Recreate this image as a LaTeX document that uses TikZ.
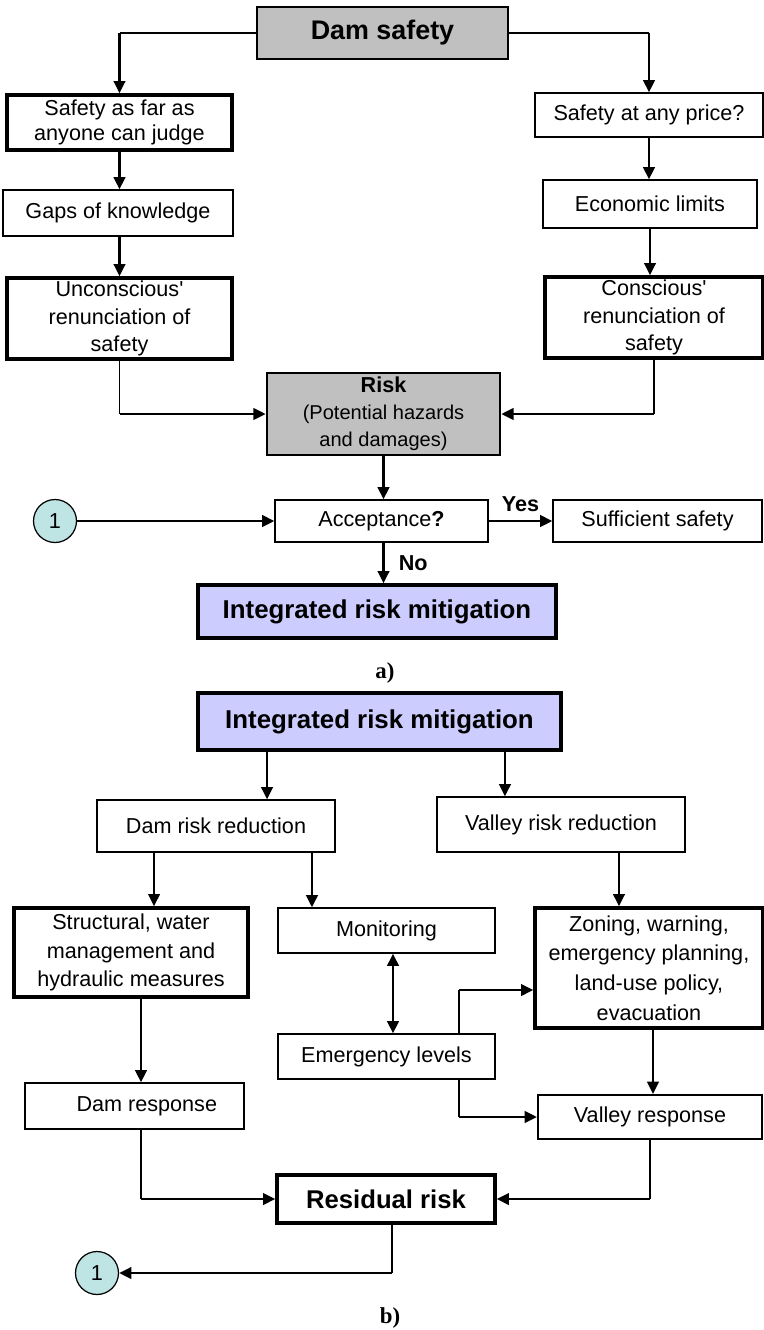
\documentclass[tikz,border=0pt]{standalone}
\usepackage{fontspec}
\setmainfont{Liberation Sans}
\newfontfamily\plainfont{Liberation Sans}
\newfontfamily\capfont{Liberation Serif}
\newcommand{\apos}{{\plainfont'}}
\usetikzlibrary{arrows.meta}
\definecolor{riskgray}{RGB}{192,192,192}
\definecolor{mitiblue}{RGB}{204,204,255}
\definecolor{linkcyan}{RGB}{190,228,228}
\tikzset{
	box/.style={draw, line width=0.7pt, fill=white, inner sep=1pt, align=center, font=\fontsize{12.3}{15.5}\selectfont},
	boldbox/.style={box, line width=1.9pt},
	graybox/.style={box, line width=1.5pt, fill=riskgray},
	bluebox/.style={boldbox, fill=mitiblue, font=\bfseries\fontsize{14.7}{17}\selectfont},
	conn/.style={circle, draw, line width=0.7pt, fill=linkcyan, minimum size=0.86cm, inner sep=0pt, font=\fontsize{12.3}{15}\selectfont},
	arr/.style={->, line width=1.5pt},
	link/.style={line width=0.7pt},
	caption/.style={font=\capfont\bfseries\fontsize{13}{15}\selectfont},
}
\begin{document}
\begin{tikzpicture}[x=0.02cm, y=-0.02cm, >={Triangle[length=7pt,width=6.5pt]}, line join=miter]
	\useasboundingbox (0,0) rectangle (764,1330);
	% a) acceptance of risk
	\node[graybox, minimum width=5.02cm, minimum height=1.04cm, font=\bfseries\fontsize{15.3}{18}\selectfont] (dam) at (382.5,33) {Dam safety};
	\node[boldbox, minimum width=4.5cm, minimum height=1.1cm, font=\fontsize{12.3}{14.2}\selectfont] (judge) at (119.5,122.5) {Safety as far as\\anyone can judge};
	\node[box, minimum width=4.6cm, minimum height=0.92cm] (gaps) at (118,213) {Gaps of knowledge};
	\node[boldbox, minimum width=4.5cm, minimum height=1.62cm] (uncons) at (119.5,318.5) {Unconscious\apos\\renunciation of\\safety};
	\node[box, minimum width=4.56cm, minimum height=0.88cm] (price) at (649,115) {Safety at any price?};
	\node[box, minimum width=4.28cm, minimum height=0.96cm] (econ) at (650,204) {Economic limits};
	\node[boldbox, minimum width=4.36cm, minimum height=1.62cm] (cons) at (654,317.5) {Conscious\apos\\renunciation of\\safety};
	\node[graybox, minimum width=4.66cm, minimum height=1.64cm, font=\fontsize{11.4}{15.5}\selectfont] (risk) at (383.5,414) {\textbf{\fontsize{12.3}{15.5}\selectfont Risk}\\(Potential hazards\\and damages)};
	\node[box, minimum width=4.26cm, minimum height=0.84cm] (accept) at (381.5,521) {Acceptance\textbf{?}};
	\node[box, minimum width=4.18cm, minimum height=0.84cm] (suff) at (657.5,521) {Sufficient safety};
	\node[conn] (linka) at (55,521) {1};
	\node[bluebox, minimum width=7.16cm, minimum height=1.06cm] (mitia) at (377,611.5) {Integrated risk mitigation};
	\node[caption] (capa) at (385,673) {a)};

	\draw[link] (dam.west) -- (dam.west -| judge.north);
	\draw[arr] (dam.west -| judge.north) -- (judge.north);
	\draw[link] (dam.east) -- (dam.east -| price.north);
	\draw[arr] (dam.east -| price.north) -- (price.north);
	\draw[arr] (judge.south) -- (judge.south |- gaps.north);
	\draw[arr] (judge.south |- gaps.south) -- (judge.south |- uncons.north);
	\draw[arr] (price.south) -- (price.south |- econ.north);
	\draw[arr] (econ.south) -- (econ.south |- cons.north);
	\draw[link] (uncons.south) -- (uncons.south |- risk.west);
	\draw[arr] (uncons.south |- risk.west) -- (risk.west);
	\draw[link] (cons.south) -- (cons.south |- risk.east);
	\draw[arr] (cons.south |- risk.east) -- (risk.east);
	\draw[arr] (risk.south) -- (risk.south |- accept.north);
	\draw[arr] (linka.east) -- (accept.west);
	\draw[arr] (accept.east) -- node[midway, above=3.5pt, inner sep=1pt, font=\bfseries\fontsize{12.3}{15}\selectfont] {Yes} (suff.west);
	\draw[arr] (risk.south |- accept.south) -- node[midway, right=7pt, inner sep=1pt, font=\bfseries\fontsize{12.3}{15}\selectfont] {No} (risk.south |- mitia.north);

	% b) integrated risk mitigation
	\node[bluebox, minimum width=7.26cm, minimum height=1.14cm] (mitib) at (379.5,721.5) {Integrated risk mitigation};
	\node[box, minimum width=4.76cm, minimum height=1.04cm] (damred) at (216,826) {Dam risk reduction};
	\node[box, minimum width=4.96cm, minimum height=1.1cm] (valred) at (561,824.5) {Valley risk reduction};
	\node[boldbox, minimum width=4.68cm, minimum height=1.78cm, font=\fontsize{12.3}{16.3}\selectfont] (struct) at (131,952.5) {Structural, water\\management and\\hydraulic measures};
	\node[box, minimum width=4.34cm, minimum height=0.9cm] (monit) at (386.5,930.5) {Monitoring};
	\node[boldbox, minimum width=4.56cm, minimum height=2.4cm, font=\fontsize{12.3}{16.8}\selectfont] (zoning) at (649,968) {Zoning, warning,\\emergency planning,\\land-use policy,\\evacuation};
	\node[box, minimum width=4.34cm, minimum height=0.9cm] (emerg) at (386.5,1056.5) {Emergency levels};
	\node[box, minimum width=4.38cm, minimum height=0.92cm] (damresp) at (134.5,1106) {\hspace*{14pt}Dam response};
	\node[box, line width=1.2pt, minimum width=4.48cm, minimum height=0.88cm] (valresp) at (650,1117) {Valley response};
	\node[boldbox, minimum width=4.36cm, minimum height=0.96cm, font=\bfseries\fontsize{14.6}{17}\selectfont] (resid) at (386,1199) {Residual risk};
	\node[conn] (linkb) at (97,1273) {1};
	\node[caption] (capb) at (390,1318) {b)};

	\coordinate (tdam) at ([xshift=-2.25cm]mitib.south);
	\coordinate (tval) at ([xshift=2.51cm]mitib.south);
	\draw[arr] (tdam) -- (tdam |- damred.north);
	\draw[arr] (tval) -- (tval |- valred.north);
	\coordinate (tstr) at ([xshift=-1.24cm]damred.south);
	\coordinate (tmon) at ([xshift=1.92cm]damred.south);
	\coordinate (tzon) at ([xshift=1.16cm]valred.south);
	\draw[arr] (tstr) -- (tstr |- struct.north);
	\draw[arr] (tmon) -- (tmon |- monit.north);
	\draw[arr] (tzon) -- (tzon |- zoning.north);
	\draw[arr, <->] ([xshift=0.13cm]monit.south) -- ([xshift=0.13cm]emerg.north);
	\coordinate (eup) at ([xshift=1.45cm]emerg.north);
	\coordinate (edn) at ([xshift=1.45cm]emerg.south);
	\coordinate (zin) at ([yshift=-0.44cm]zoning.west);
	\draw[link] (eup) -- (eup |- zin);
	\draw[arr] (eup |- zin) -- (zin);
	\draw[link] (edn) -- (edn |- valresp.west);
	\draw[arr] (edn |- valresp.west) -- (valresp.west);
	\coordinate (sdn) at ([xshift=0.2cm]struct.south);
	\draw[arr] (sdn) -- (sdn |- damresp.north);
	\draw[arr] ([xshift=0.08cm]zoning.south) -- ([xshift=0.08cm]zoning.south |- valresp.north);
	\coordinate (ddn) at ([xshift=0.13cm]damresp.south);
	\draw[link] (ddn) -- (ddn |- resid.west);
	\draw[arr] (ddn |- resid.west) -- (resid.west);
	\draw[link] (valresp.south) -- (valresp.south |- resid.east);
	\draw[arr] (valresp.south |- resid.east) -- (resid.east);
	\coordinate (rdn) at ([xshift=0.12cm]resid.south);
	\draw[link] (rdn) -- (rdn |- linkb.east);
	\draw[arr] (rdn |- linkb.east) -- (linkb.east);
\end{tikzpicture}
\end{document}
